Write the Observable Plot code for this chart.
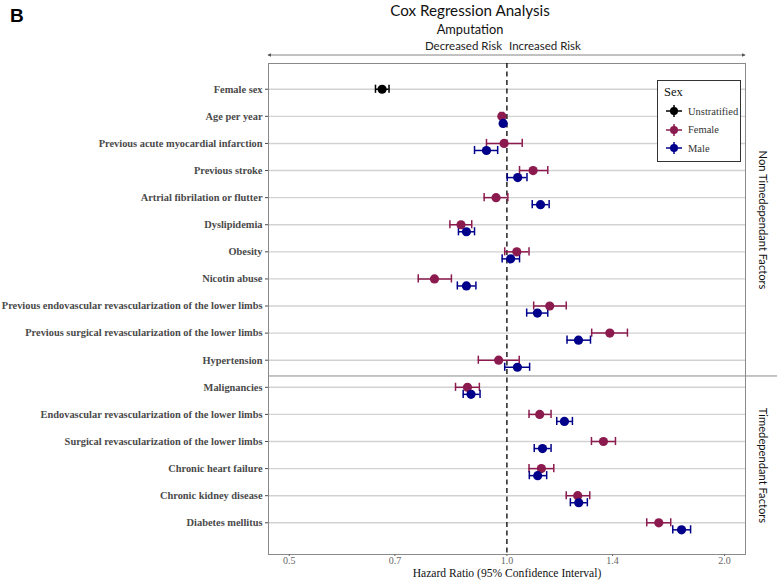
<!DOCTYPE html>
<html>
<head>
<meta charset="utf-8">
<script src="https://cdn.jsdelivr.net/npm/d3@7"></script>
<script src="https://cdn.jsdelivr.net/npm/@observablehq/plot@0.6"></script>
<style>
  html, body { margin: 0; padding: 0; background: #fff; }
  #wrap { position: relative; width: 777px; height: 581px; overflow: hidden; }
  .abs { position: absolute; white-space: nowrap; }
</style>
</head>
<body>
<div id="wrap">
  <div class="abs" style="left:10px;top:5px;font:bold 19px 'Liberation Sans',Arial,sans-serif;">B</div>
  <div class="abs" id="title" style="left:320px;width:300px;top:1px;line-height:18px;text-align:center;font-family:Lato,sans-serif;font-size:15.2px;color:#111;">Cox Regression Analysis</div>
  <div class="abs" id="subtitle" style="left:320px;width:300px;top:21px;line-height:16px;text-align:center;font-family:Lato,sans-serif;font-size:12.8px;color:#111;">Amputation</div>
  <div class="abs" id="dec" style="right:275px;top:39px;font:11.5px Lato,sans-serif;color:#222;"></div>
  <div class="abs" id="inc" style="left:509px;top:39px;font:11.5px Lato,sans-serif;color:#222;"></div>
  <svg class="abs" style="left:0;top:0" width="777" height="63" id="arrow"></svg>
  <div class="abs" id="chart" style="left:0;top:63px;"></div>
  <div class="abs" id="legend" style="left:657px;top:80px;width:84px;height:82px;border:1px solid #333;background:#fff;box-sizing:border-box;font-family:'Liberation Serif',serif;"></div>
</div>
<script>
// ---------- data ----------
const labels = [
  "Female sex",
  "Age per year",
  "Previous acute myocardial infarction",
  "Previous stroke",
  "Artrial fibrilation or flutter",
  "Dyslipidemia",
  "Obesity",
  "Nicotin abuse",
  "Previous endovascular revascularization of the lower limbs",
  "Previous surgical revascularization of the lower limbs",
  "Hypertension",
  "Malignancies",
  "Endovascular revascularization of the lower limbs",
  "Surgical revascularization of the lower limbs",
  "Chronic heart failure",
  "Chronic kidney disease",
  "Diabetes mellitus"
];
const groupNames = ["Non Timedependant Factors", "Timedependant Factors"];
const groupSizes = [11, 6];
const xTicks = [0.5, 0.7, 1.0, 1.4, 2.0];
const sexes = ["Unstratified", "Female", "Male"];
const sexColors = ["#000000", "#8B1A4E", "#00008B"];
const riskLabels = ["Decreased Risk", "Increased Risk"];

const unstratHR = [0.672, null, null, null, null, null, null, null, null, null, null, null, null, null, null, null, null];
const unstratLo = [0.658, null, null, null, null, null, null, null, null, null, null, null, null, null, null, null, null];
const unstratHi = [0.687, null, null, null, null, null, null, null, null, null, null, null, null, null, null, null, null];

const femaleHR = [null, 0.984, 0.991, 1.087, 0.966, 0.864, 1.032, 0.794, 1.146, 1.388, 0.974, 0.882, 1.110, 1.360, 1.116, 1.253, 1.622];
const femaleLo = [null, 0.979, 0.937, 1.041, 0.930, 0.834, 0.993, 0.754, 1.089, 1.310, 0.913, 0.849, 1.073, 1.309, 1.073, 1.208, 1.561];
const femaleHi = [null, 0.989, 1.050, 1.139, 1.003, 0.894, 1.073, 0.838, 1.208, 1.468, 1.040, 0.916, 1.151, 1.413, 1.161, 1.302, 1.685];

const maleHR = [null, 0.988, 0.937, 1.035, 1.113, 0.879, 1.012, 0.879, 1.102, 1.256, 1.034, 0.892, 1.201, 1.120, 1.103, 1.257, 1.744];
const maleLo = [null, 0.983, 0.902, 1.001, 1.084, 0.857, 0.985, 0.854, 1.065, 1.211, 0.993, 0.870, 1.172, 1.091, 1.074, 1.224, 1.696];
const maleHi = [null, 0.993, 0.971, 1.066, 1.144, 0.902, 1.041, 0.906, 1.139, 1.305, 1.075, 0.918, 1.232, 1.151, 1.135, 1.292, 1.795];

// ---------- layout constants ----------
const dodge = {Unstratified: 0, Female: 0, Male: 0.26};
const capH = 0.15;
const yPadTop = 0.95, yPadBottom = 0.17;
const breakGap = 0.6;

// ---------- build table ----------
const series = [
  {sex: "Unstratified", hr: unstratHR, lo: unstratLo, hi: unstratHi},
  {sex: "Female", hr: femaleHR, lo: femaleLo, hi: femaleHi},
  {sex: "Male", hr: maleHR, lo: maleLo, hi: maleHi}
];
const data = [];
for (const s of series) {
  s.hr.forEach((v, i) => {
    if (v != null) data.push({sex: s.sex, row: i, yy: i + dodge[s.sex], hr: v, lo: s.lo[i], hi: s.hi[i]});
  });
}
const rowIdx = labels.map((_, i) => i);
const yDomain = [-yPadTop, labels.length + yPadBottom];
const breakY = groupSizes[0] - 1 + breakGap;
const groups = [
  {name: groupNames[0], mid: (yDomain[0] + breakY) / 2},
  {name: groupNames[1], mid: (breakY + yDomain[1]) / 2}
];

const chart = Plot.plot({
  width: 777,
  height: 518,
  marginLeft: 268,
  marginRight: 32,
  marginTop: 0,
  marginBottom: 27,
  style: {fontFamily: "'Liberation Serif', 'Times New Roman', serif", background: "transparent"},
  x: {type: "log", domain: [0.468, 2.138]},
  y: {domain: yDomain, reverse: true},
  color: {domain: sexes, range: sexColors},
  marks: [
    Plot.gridY(rowIdx, {stroke: "#d2d2d2", strokeOpacity: 1, strokeWidth: 1.4}),
    Plot.frame({stroke: "#8a8a8a", strokeWidth: 1}),
    Plot.ruleX([1], {stroke: "#000", strokeDasharray: "5,3.5", strokeWidth: 1.3}),
    Plot.ruleY(data, {y: "yy", x1: "lo", x2: "hi", stroke: "sex", strokeWidth: 1.5}),
    Plot.ruleX(data, {x: "lo", y1: d => d.yy - capH, y2: d => d.yy + capH, stroke: "sex", strokeWidth: 1.5}),
    Plot.ruleX(data, {x: "hi", y1: d => d.yy - capH, y2: d => d.yy + capH, stroke: "sex", strokeWidth: 1.5}),
    Plot.dot(data, {x: "hr", y: "yy", fill: "sex", r: 4.6}),
    Plot.axisY(rowIdx, {
      tickFormat: i => labels[i], tickSize: 3, tickPadding: 3,
      fontWeight: "bold", fontSize: 10.4, color: "#4a4a4a", label: null
    }),
    Plot.axisX({
      ticks: xTicks, tickFormat: d3.format(".1f"), tickSize: 2, tickPadding: 0,
      fontSize: 10, color: "#666", label: null
    }),
    Plot.text(["Hazard Ratio (95% Confidence Interval)"], {
      frameAnchor: "bottom", dy: 22.5, fontSize: 11.6, fill: "#111"
    }),
    Plot.text(groups, {
      y: "mid", text: "name", frameAnchor: "right", dx: 17, rotate: 90, textAnchor: "middle",
      fontFamily: "Lato, sans-serif", fontSize: 11.2, fill: "#111"
    })
  ]
});
document.getElementById("chart").appendChild(chart);

// divider between factor groups, extending into the strip area
const ys = chart.scale("y");
d3.select(chart).append("line")
  .attr("x1", 268).attr("x2", 777)
  .attr("y1", ys.apply(breakY)).attr("y2", ys.apply(breakY))
  .attr("stroke", "#8a8a8a").attr("stroke-width", 1);

// risk labels and arrow
document.getElementById("dec").textContent = riskLabels[0];
document.getElementById("inc").textContent = riskLabels[1];
const arrow = d3.select("#arrow");
const defs = arrow.append("defs");
defs.append("marker").attr("id", "ah").attr("viewBox", "0 0 6 6").attr("refX", 5).attr("refY", 3)
  .attr("markerWidth", 4).attr("markerHeight", 4).attr("orient", "auto-start-reverse")
  .append("path").attr("d", "M0,0L6,3L0,6Z").attr("fill", "#555");
arrow.append("line").attr("x1", 268).attr("x2", 745).attr("y1", 55).attr("y2", 55)
  .attr("stroke", "#777").attr("stroke-width", 0.9)
  .attr("marker-start", "url(#ah)").attr("marker-end", "url(#ah)");

// legend
const lg = d3.select("#legend");
lg.append("div").text("Sex").style("position", "absolute").style("left", "6px").style("top", "4px")
  .style("font-size", "12.5px").style("color", "#111");
sexes.forEach((s, i) => {
  const row = lg.append("div").style("position", "absolute").style("left", "6px")
    .style("top", (22 + i * 18.5) + "px").style("height", "16px").style("display", "flex").style("align-items", "center");
  const svg = row.append("svg").attr("width", 20).attr("height", 16);
  svg.append("line").attr("x1", 2).attr("x2", 18).attr("y1", 8).attr("y2", 8).attr("stroke", sexColors[i]).attr("stroke-width", 1.5);
  svg.append("line").attr("x1", 10).attr("x2", 10).attr("y1", 2).attr("y2", 14).attr("stroke", sexColors[i]).attr("stroke-width", 1.5);
  svg.append("circle").attr("cx", 10).attr("cy", 8).attr("r", 4).attr("fill", sexColors[i]);
  row.append("span").text(s).style("font-size", "10.5px").style("color", "#333").style("margin-left", "4px");
});
</script>
</body>
</html>
